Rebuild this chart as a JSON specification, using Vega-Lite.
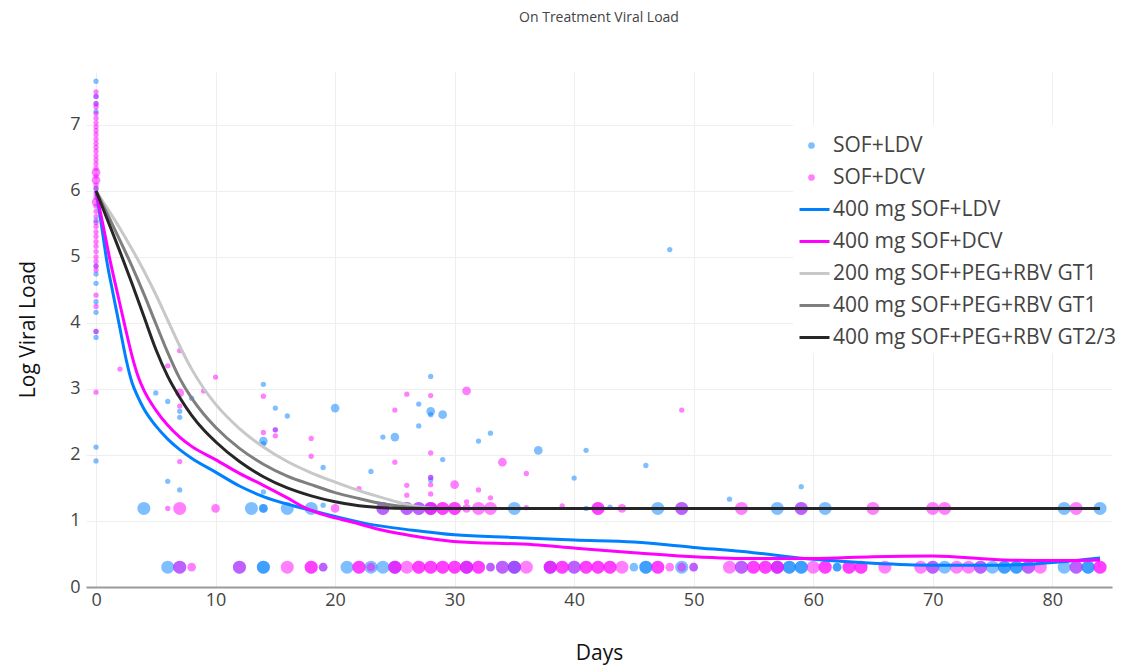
{
"$schema": "https://vega.github.io/schema/vega-lite/v6.json",
"width": 1026,
"height": 515,
"autosize": {"type": "none"},
"padding": {"left": 86, "top": 72, "right": 13, "bottom": 81},
"background": "white",
"config": {"font": "Open Sans", "view": {"stroke": null}},
"title": {"text": "On Treatment Viral Load", "fontSize": 14, "fontWeight": "normal", "color": "#444", "anchor": "middle", "offset": 47},
"resolve": {"scale": {"color": "independent"}, "legend": {"color": "independent"}},
"datasets": {
"pts": [
{"d":0,"v":7.66,"s":"SOF+LDV","n":1},{"d":0,"v":7.43,"s":"SOF+LDV","n":1},{"d":0,"v":7.32,"s":"SOF+LDV","n":1},{"d":0,"v":7.2,"s":"SOF+LDV","n":1},{"d":0,"v":6.04,"s":"SOF+LDV","n":1},{"d":0,"v":5.55,"s":"SOF+LDV","n":1},{"d":0,"v":4.86,"s":"SOF+LDV","n":1},{"d":0,"v":4.74,"s":"SOF+LDV","n":1},{"d":0,"v":4.6,"s":"SOF+LDV","n":1},{"d":0,"v":4.32,"s":"SOF+LDV","n":1},{"d":0,"v":4.16,"s":"SOF+LDV","n":1},{"d":0,"v":3.87,"s":"SOF+LDV","n":1},{"d":0,"v":3.78,"s":"SOF+LDV","n":1},{"d":0,"v":2.12,"s":"SOF+LDV","n":1},{"d":0,"v":1.91,"s":"SOF+LDV","n":1},
{"d":0,"v":7.5,"s":"SOF+DCV","n":1},{"d":0,"v":7.43,"s":"SOF+DCV","n":1},{"d":0,"v":7.32,"s":"SOF+DCV","n":1},{"d":0,"v":7.27,"s":"SOF+DCV","n":1},{"d":0,"v":7.17,"s":"SOF+DCV","n":1},{"d":0,"v":7.1,"s":"SOF+DCV","n":1},{"d":0,"v":7.03,"s":"SOF+DCV","n":1},{"d":0,"v":6.97,"s":"SOF+DCV","n":1},{"d":0,"v":6.91,"s":"SOF+DCV","n":1},{"d":0,"v":6.85,"s":"SOF+DCV","n":1},{"d":0,"v":6.78,"s":"SOF+DCV","n":1},{"d":0,"v":6.72,"s":"SOF+DCV","n":1},{"d":0,"v":6.66,"s":"SOF+DCV","n":1},{"d":0,"v":6.6,"s":"SOF+DCV","n":1},{"d":0,"v":6.53,"s":"SOF+DCV","n":1},{"d":0,"v":6.47,"s":"SOF+DCV","n":1},{"d":0,"v":6.41,"s":"SOF+DCV","n":1},{"d":0,"v":6.34,"s":"SOF+DCV","n":1},{"d":0,"v":6.28,"s":"SOF+DCV","n":2},{"d":0,"v":6.22,"s":"SOF+DCV","n":1},{"d":0,"v":6.16,"s":"SOF+DCV","n":2},{"d":0,"v":6.09,"s":"SOF+DCV","n":1},{"d":0,"v":6.03,"s":"SOF+DCV","n":1},{"d":0,"v":5.96,"s":"SOF+DCV","n":1},{"d":0,"v":5.9,"s":"SOF+DCV","n":1},{"d":0,"v":5.83,"s":"SOF+DCV","n":2},{"d":0,"v":5.77,"s":"SOF+DCV","n":1},{"d":0,"v":5.69,"s":"SOF+DCV","n":1},{"d":0,"v":5.61,"s":"SOF+DCV","n":1},{"d":0,"v":5.52,"s":"SOF+DCV","n":1},{"d":0,"v":5.46,"s":"SOF+DCV","n":1},{"d":0,"v":5.38,"s":"SOF+DCV","n":1},{"d":0,"v":5.31,"s":"SOF+DCV","n":1},{"d":0,"v":5.23,"s":"SOF+DCV","n":1},{"d":0,"v":5.16,"s":"SOF+DCV","n":1},{"d":0,"v":5.08,"s":"SOF+DCV","n":1},{"d":0,"v":5.0,"s":"SOF+DCV","n":1},{"d":0,"v":4.93,"s":"SOF+DCV","n":1},{"d":0,"v":4.86,"s":"SOF+DCV","n":1},{"d":0,"v":4.8,"s":"SOF+DCV","n":1},{"d":0,"v":4.42,"s":"SOF+DCV","n":1},{"d":0,"v":4.25,"s":"SOF+DCV","n":1},{"d":0,"v":3.87,"s":"SOF+DCV","n":1},{"d":0,"v":2.95,"s":"SOF+DCV","n":1},
{"d":5,"v":2.94,"s":"SOF+LDV","n":1},{"d":6,"v":2.81,"s":"SOF+LDV","n":1},{"d":6,"v":1.6,"s":"SOF+LDV","n":1},{"d":7,"v":2.66,"s":"SOF+LDV","n":1},{"d":7,"v":2.57,"s":"SOF+LDV","n":1},{"d":7,"v":1.47,"s":"SOF+LDV","n":1},{"d":8,"v":2.86,"s":"SOF+LDV","n":1},{"d":14,"v":3.07,"s":"SOF+LDV","n":1},{"d":14,"v":2.21,"s":"SOF+LDV","n":2},{"d":14,"v":2.17,"s":"SOF+LDV","n":1},{"d":14,"v":1.44,"s":"SOF+LDV","n":1},{"d":15,"v":2.71,"s":"SOF+LDV","n":1},{"d":15,"v":2.38,"s":"SOF+LDV","n":1},{"d":16,"v":2.59,"s":"SOF+LDV","n":1},{"d":19,"v":1.81,"s":"SOF+LDV","n":1},{"d":20,"v":2.71,"s":"SOF+LDV","n":2},{"d":23,"v":1.75,"s":"SOF+LDV","n":1},{"d":24,"v":2.27,"s":"SOF+LDV","n":1},{"d":25,"v":2.27,"s":"SOF+LDV","n":2},{"d":27,"v":2.77,"s":"SOF+LDV","n":1},{"d":27,"v":2.44,"s":"SOF+LDV","n":1},{"d":28,"v":3.19,"s":"SOF+LDV","n":1},{"d":28,"v":2.66,"s":"SOF+LDV","n":2},{"d":28,"v":2.61,"s":"SOF+LDV","n":1},{"d":28,"v":1.66,"s":"SOF+LDV","n":1},{"d":28,"v":1.62,"s":"SOF+LDV","n":1},{"d":29,"v":2.61,"s":"SOF+LDV","n":2},{"d":29,"v":1.93,"s":"SOF+LDV","n":1},{"d":32,"v":2.21,"s":"SOF+LDV","n":1},{"d":33,"v":2.33,"s":"SOF+LDV","n":1},{"d":37,"v":2.07,"s":"SOF+LDV","n":2},{"d":40,"v":1.65,"s":"SOF+LDV","n":1},{"d":41,"v":2.07,"s":"SOF+LDV","n":1},{"d":46,"v":1.84,"s":"SOF+LDV","n":1},{"d":48,"v":5.11,"s":"SOF+LDV","n":1},{"d":53,"v":1.33,"s":"SOF+LDV","n":1},{"d":59,"v":1.52,"s":"SOF+LDV","n":1},
{"d":2,"v":3.3,"s":"SOF+DCV","n":1},{"d":6,"v":3.35,"s":"SOF+DCV","n":1},{"d":7,"v":3.58,"s":"SOF+DCV","n":1},{"d":7,"v":2.94,"s":"SOF+DCV","n":2},{"d":7,"v":2.74,"s":"SOF+DCV","n":1},{"d":7,"v":1.9,"s":"SOF+DCV","n":1},{"d":9,"v":2.97,"s":"SOF+DCV","n":1},{"d":10,"v":3.18,"s":"SOF+DCV","n":1},{"d":14,"v":2.89,"s":"SOF+DCV","n":1},{"d":14,"v":2.34,"s":"SOF+DCV","n":1},{"d":15,"v":2.38,"s":"SOF+DCV","n":1},{"d":15,"v":2.29,"s":"SOF+DCV","n":1},{"d":18,"v":2.25,"s":"SOF+DCV","n":1},{"d":18,"v":1.98,"s":"SOF+DCV","n":1},{"d":22,"v":1.49,"s":"SOF+DCV","n":1},{"d":25,"v":2.68,"s":"SOF+DCV","n":1},{"d":25,"v":1.89,"s":"SOF+DCV","n":1},{"d":26,"v":2.92,"s":"SOF+DCV","n":1},{"d":26,"v":1.54,"s":"SOF+DCV","n":1},{"d":26,"v":1.39,"s":"SOF+DCV","n":1},{"d":28,"v":2.9,"s":"SOF+DCV","n":1},{"d":28,"v":2.03,"s":"SOF+DCV","n":1},{"d":28,"v":1.66,"s":"SOF+DCV","n":1},{"d":28,"v":1.55,"s":"SOF+DCV","n":1},{"d":28,"v":1.41,"s":"SOF+DCV","n":1},{"d":30,"v":1.55,"s":"SOF+DCV","n":2},{"d":31,"v":2.97,"s":"SOF+DCV","n":2},{"d":31,"v":1.29,"s":"SOF+DCV","n":1},{"d":32,"v":1.47,"s":"SOF+DCV","n":1},{"d":33,"v":1.35,"s":"SOF+DCV","n":1},{"d":34,"v":1.89,"s":"SOF+DCV","n":2},{"d":36,"v":1.72,"s":"SOF+DCV","n":1},{"d":49,"v":2.68,"s":"SOF+DCV","n":1},
{"d":4,"v":1.19,"s":"SOF+LDV","n":4},{"d":13,"v":1.19,"s":"SOF+LDV","n":4},{"d":14,"v":1.19,"s":"SOF+LDV","n":2},{"d":14,"v":1.19,"s":"SOF+LDV","n":2},{"d":16,"v":1.19,"s":"SOF+LDV","n":4},{"d":18,"v":1.19,"s":"SOF+LDV","n":4},{"d":19,"v":1.24,"s":"SOF+LDV","n":1},{"d":24,"v":1.19,"s":"SOF+LDV","n":4},{"d":26,"v":1.19,"s":"SOF+LDV","n":4},{"d":27,"v":1.19,"s":"SOF+LDV","n":4},{"d":28,"v":1.19,"s":"SOF+LDV","n":4},{"d":35,"v":1.19,"s":"SOF+LDV","n":4},{"d":41,"v":1.19,"s":"SOF+LDV","n":1},{"d":43,"v":1.21,"s":"SOF+LDV","n":1},{"d":47,"v":1.19,"s":"SOF+LDV","n":4},{"d":49,"v":1.19,"s":"SOF+LDV","n":4},{"d":57,"v":1.19,"s":"SOF+LDV","n":4},{"d":59,"v":1.19,"s":"SOF+LDV","n":4},{"d":61,"v":1.19,"s":"SOF+LDV","n":4},{"d":81,"v":1.19,"s":"SOF+LDV","n":4},{"d":84,"v":1.19,"s":"SOF+LDV","n":4},
{"d":6,"v":1.19,"s":"SOF+DCV","n":1},{"d":7,"v":1.19,"s":"SOF+DCV","n":4},{"d":10,"v":1.19,"s":"SOF+DCV","n":2},{"d":20,"v":1.19,"s":"SOF+DCV","n":2},{"d":24,"v":1.19,"s":"SOF+DCV","n":4},{"d":26,"v":1.19,"s":"SOF+DCV","n":4},{"d":27,"v":1.19,"s":"SOF+DCV","n":4},{"d":28,"v":1.19,"s":"SOF+DCV","n":4},{"d":28,"v":1.19,"s":"SOF+DCV","n":4},{"d":29,"v":1.19,"s":"SOF+DCV","n":4},{"d":29,"v":1.19,"s":"SOF+DCV","n":4},{"d":30,"v":1.19,"s":"SOF+DCV","n":4},{"d":30,"v":1.19,"s":"SOF+DCV","n":4},{"d":31,"v":1.19,"s":"SOF+DCV","n":2},{"d":32,"v":1.19,"s":"SOF+DCV","n":4},{"d":33,"v":1.19,"s":"SOF+DCV","n":4},{"d":36,"v":1.2,"s":"SOF+DCV","n":1},{"d":39,"v":1.23,"s":"SOF+DCV","n":1},{"d":42,"v":1.19,"s":"SOF+DCV","n":4},{"d":42,"v":1.19,"s":"SOF+DCV","n":4},{"d":44,"v":1.19,"s":"SOF+DCV","n":2},{"d":49,"v":1.19,"s":"SOF+DCV","n":4},{"d":54,"v":1.19,"s":"SOF+DCV","n":4},{"d":59,"v":1.19,"s":"SOF+DCV","n":4},{"d":65,"v":1.19,"s":"SOF+DCV","n":4},{"d":70,"v":1.19,"s":"SOF+DCV","n":4},{"d":71,"v":1.19,"s":"SOF+DCV","n":4},{"d":82,"v":1.19,"s":"SOF+DCV","n":4},
{"d":6,"v":0.3,"s":"SOF+LDV","n":4},{"d":7,"v":0.3,"s":"SOF+LDV","n":4},{"d":12,"v":0.3,"s":"SOF+LDV","n":4},{"d":14,"v":0.3,"s":"SOF+LDV","n":4},{"d":14,"v":0.3,"s":"SOF+LDV","n":4},{"d":19,"v":0.3,"s":"SOF+LDV","n":2},{"d":21,"v":0.3,"s":"SOF+LDV","n":4},{"d":23,"v":0.3,"s":"SOF+LDV","n":4},{"d":24,"v":0.3,"s":"SOF+LDV","n":4},{"d":25,"v":0.3,"s":"SOF+LDV","n":4},{"d":31,"v":0.3,"s":"SOF+LDV","n":4},{"d":33,"v":0.3,"s":"SOF+LDV","n":2},{"d":34,"v":0.3,"s":"SOF+LDV","n":4},{"d":35,"v":0.3,"s":"SOF+LDV","n":4},{"d":35,"v":0.3,"s":"SOF+LDV","n":4},{"d":38,"v":0.3,"s":"SOF+LDV","n":4},{"d":40,"v":0.3,"s":"SOF+LDV","n":4},{"d":45,"v":0.3,"s":"SOF+LDV","n":2},{"d":46,"v":0.3,"s":"SOF+LDV","n":4},{"d":46,"v":0.3,"s":"SOF+LDV","n":4},{"d":49,"v":0.3,"s":"SOF+LDV","n":4},{"d":50,"v":0.3,"s":"SOF+LDV","n":2},{"d":54,"v":0.3,"s":"SOF+LDV","n":4},{"d":57,"v":0.3,"s":"SOF+LDV","n":4},{"d":58,"v":0.3,"s":"SOF+LDV","n":4},{"d":58,"v":0.3,"s":"SOF+LDV","n":4},{"d":59,"v":0.3,"s":"SOF+LDV","n":4},{"d":59,"v":0.3,"s":"SOF+LDV","n":4},{"d":62,"v":0.3,"s":"SOF+LDV","n":2},{"d":62,"v":0.3,"s":"SOF+LDV","n":2},{"d":70,"v":0.3,"s":"SOF+LDV","n":4},{"d":71,"v":0.3,"s":"SOF+LDV","n":4},{"d":74,"v":0.3,"s":"SOF+LDV","n":4},{"d":75,"v":0.3,"s":"SOF+LDV","n":4},{"d":76,"v":0.3,"s":"SOF+LDV","n":4},{"d":76,"v":0.3,"s":"SOF+LDV","n":4},{"d":77,"v":0.3,"s":"SOF+LDV","n":4},{"d":77,"v":0.3,"s":"SOF+LDV","n":4},{"d":78,"v":0.3,"s":"SOF+LDV","n":4},{"d":81,"v":0.3,"s":"SOF+LDV","n":4},{"d":82,"v":0.3,"s":"SOF+LDV","n":4},{"d":83,"v":0.3,"s":"SOF+LDV","n":4},{"d":83,"v":0.3,"s":"SOF+LDV","n":4},
{"d":7,"v":0.3,"s":"SOF+DCV","n":4},{"d":8,"v":0.3,"s":"SOF+DCV","n":2},{"d":12,"v":0.3,"s":"SOF+DCV","n":4},{"d":16,"v":0.3,"s":"SOF+DCV","n":4},{"d":18,"v":0.3,"s":"SOF+DCV","n":4},{"d":18,"v":0.3,"s":"SOF+DCV","n":4},{"d":19,"v":0.3,"s":"SOF+DCV","n":2},{"d":22,"v":0.3,"s":"SOF+DCV","n":4},{"d":22,"v":0.3,"s":"SOF+DCV","n":4},{"d":23,"v":0.3,"s":"SOF+DCV","n":2},{"d":25,"v":0.3,"s":"SOF+DCV","n":4},{"d":25,"v":0.3,"s":"SOF+DCV","n":4},{"d":26,"v":0.3,"s":"SOF+DCV","n":4},{"d":27,"v":0.3,"s":"SOF+DCV","n":4},{"d":27,"v":0.3,"s":"SOF+DCV","n":4},{"d":28,"v":0.3,"s":"SOF+DCV","n":4},{"d":28,"v":0.3,"s":"SOF+DCV","n":4},{"d":29,"v":0.3,"s":"SOF+DCV","n":4},{"d":29,"v":0.3,"s":"SOF+DCV","n":4},{"d":30,"v":0.3,"s":"SOF+DCV","n":4},{"d":30,"v":0.3,"s":"SOF+DCV","n":4},{"d":31,"v":0.3,"s":"SOF+DCV","n":4},{"d":31,"v":0.3,"s":"SOF+DCV","n":4},{"d":32,"v":0.3,"s":"SOF+DCV","n":4},{"d":32,"v":0.3,"s":"SOF+DCV","n":4},{"d":33,"v":0.3,"s":"SOF+DCV","n":2},{"d":34,"v":0.3,"s":"SOF+DCV","n":4},{"d":35,"v":0.3,"s":"SOF+DCV","n":4},{"d":36,"v":0.3,"s":"SOF+DCV","n":4},{"d":38,"v":0.3,"s":"SOF+DCV","n":4},{"d":38,"v":0.3,"s":"SOF+DCV","n":4},{"d":39,"v":0.3,"s":"SOF+DCV","n":4},{"d":39,"v":0.3,"s":"SOF+DCV","n":4},{"d":40,"v":0.3,"s":"SOF+DCV","n":4},{"d":41,"v":0.3,"s":"SOF+DCV","n":4},{"d":41,"v":0.3,"s":"SOF+DCV","n":4},{"d":42,"v":0.3,"s":"SOF+DCV","n":4},{"d":42,"v":0.3,"s":"SOF+DCV","n":4},{"d":43,"v":0.3,"s":"SOF+DCV","n":4},{"d":43,"v":0.3,"s":"SOF+DCV","n":4},{"d":44,"v":0.3,"s":"SOF+DCV","n":4},{"d":47,"v":0.3,"s":"SOF+DCV","n":4},{"d":47,"v":0.3,"s":"SOF+DCV","n":4},{"d":48,"v":0.3,"s":"SOF+DCV","n":2},{"d":49,"v":0.3,"s":"SOF+DCV","n":2},{"d":50,"v":0.3,"s":"SOF+DCV","n":2},{"d":53,"v":0.3,"s":"SOF+DCV","n":4},{"d":54,"v":0.3,"s":"SOF+DCV","n":4},{"d":55,"v":0.3,"s":"SOF+DCV","n":4},{"d":55,"v":0.3,"s":"SOF+DCV","n":4},{"d":56,"v":0.3,"s":"SOF+DCV","n":4},{"d":56,"v":0.3,"s":"SOF+DCV","n":4},{"d":57,"v":0.3,"s":"SOF+DCV","n":4},{"d":57,"v":0.3,"s":"SOF+DCV","n":4},{"d":60,"v":0.3,"s":"SOF+DCV","n":4},{"d":61,"v":0.3,"s":"SOF+DCV","n":4},{"d":61,"v":0.3,"s":"SOF+DCV","n":4},{"d":63,"v":0.3,"s":"SOF+DCV","n":4},{"d":63,"v":0.3,"s":"SOF+DCV","n":4},{"d":64,"v":0.3,"s":"SOF+DCV","n":4},{"d":64,"v":0.3,"s":"SOF+DCV","n":4},{"d":66,"v":0.3,"s":"SOF+DCV","n":4},{"d":69,"v":0.3,"s":"SOF+DCV","n":4},{"d":70,"v":0.3,"s":"SOF+DCV","n":4},{"d":72,"v":0.3,"s":"SOF+DCV","n":4},{"d":73,"v":0.3,"s":"SOF+DCV","n":4},{"d":74,"v":0.3,"s":"SOF+DCV","n":4},{"d":78,"v":0.3,"s":"SOF+DCV","n":4},{"d":79,"v":0.3,"s":"SOF+DCV","n":4},{"d":82,"v":0.3,"s":"SOF+DCV","n":4},{"d":84,"v":0.3,"s":"SOF+DCV","n":4},{"d":84,"v":0.3,"s":"SOF+DCV","n":4}
],
"fit": [
{"d":0,"v":6.0,"s":"400 mg SOF+LDV"},{"d":0.47,"v":5.46,"s":"400 mg SOF+LDV"},{"d":0.89,"v":4.95,"s":"400 mg SOF+LDV"},{"d":1.45,"v":4.42,"s":"400 mg SOF+LDV"},{"d":2.0,"v":3.92,"s":"400 mg SOF+LDV"},{"d":2.5,"v":3.46,"s":"400 mg SOF+LDV"},{"d":3.0,"v":3.1,"s":"400 mg SOF+LDV"},{"d":3.5,"v":2.88,"s":"400 mg SOF+LDV"},{"d":4,"v":2.7,"s":"400 mg SOF+LDV"},{"d":5,"v":2.44,"s":"400 mg SOF+LDV"},{"d":6,"v":2.24,"s":"400 mg SOF+LDV"},{"d":7,"v":2.08,"s":"400 mg SOF+LDV"},{"d":8,"v":1.95,"s":"400 mg SOF+LDV"},{"d":10,"v":1.74,"s":"400 mg SOF+LDV"},{"d":12,"v":1.53,"s":"400 mg SOF+LDV"},{"d":14,"v":1.37,"s":"400 mg SOF+LDV"},{"d":16.5,"v":1.23,"s":"400 mg SOF+LDV"},{"d":18,"v":1.16,"s":"400 mg SOF+LDV"},{"d":20,"v":1.07,"s":"400 mg SOF+LDV"},{"d":22.6,"v":0.96,"s":"400 mg SOF+LDV"},{"d":26.5,"v":0.86,"s":"400 mg SOF+LDV"},{"d":30,"v":0.79,"s":"400 mg SOF+LDV"},{"d":35,"v":0.75,"s":"400 mg SOF+LDV"},{"d":40,"v":0.71,"s":"400 mg SOF+LDV"},{"d":45,"v":0.68,"s":"400 mg SOF+LDV"},{"d":50,"v":0.6,"s":"400 mg SOF+LDV"},{"d":55,"v":0.52,"s":"400 mg SOF+LDV"},{"d":60,"v":0.42,"s":"400 mg SOF+LDV"},{"d":65,"v":0.36,"s":"400 mg SOF+LDV"},{"d":70,"v":0.33,"s":"400 mg SOF+LDV"},{"d":76,"v":0.33,"s":"400 mg SOF+LDV"},{"d":80,"v":0.37,"s":"400 mg SOF+LDV"},{"d":84,"v":0.44,"s":"400 mg SOF+LDV"},
{"d":0,"v":6.0,"s":"400 mg SOF+DCV"},{"d":0.61,"v":5.46,"s":"400 mg SOF+DCV"},{"d":1.17,"v":4.95,"s":"400 mg SOF+DCV"},{"d":1.79,"v":4.45,"s":"400 mg SOF+DCV"},{"d":2.43,"v":3.94,"s":"400 mg SOF+DCV"},{"d":3.07,"v":3.46,"s":"400 mg SOF+DCV"},{"d":3.5,"v":3.2,"s":"400 mg SOF+DCV"},{"d":4,"v":2.98,"s":"400 mg SOF+DCV"},{"d":5,"v":2.68,"s":"400 mg SOF+DCV"},{"d":6,"v":2.45,"s":"400 mg SOF+DCV"},{"d":7,"v":2.27,"s":"400 mg SOF+DCV"},{"d":8,"v":2.13,"s":"400 mg SOF+DCV"},{"d":10,"v":1.93,"s":"400 mg SOF+DCV"},{"d":12,"v":1.72,"s":"400 mg SOF+DCV"},{"d":14,"v":1.54,"s":"400 mg SOF+DCV"},{"d":16,"v":1.35,"s":"400 mg SOF+DCV"},{"d":17.5,"v":1.2,"s":"400 mg SOF+DCV"},{"d":19.3,"v":1.08,"s":"400 mg SOF+DCV"},{"d":21.5,"v":0.98,"s":"400 mg SOF+DCV"},{"d":24,"v":0.86,"s":"400 mg SOF+DCV"},{"d":26.3,"v":0.78,"s":"400 mg SOF+DCV"},{"d":29.9,"v":0.69,"s":"400 mg SOF+DCV"},{"d":36.6,"v":0.64,"s":"400 mg SOF+DCV"},{"d":40,"v":0.59,"s":"400 mg SOF+DCV"},{"d":45,"v":0.52,"s":"400 mg SOF+DCV"},{"d":50,"v":0.46,"s":"400 mg SOF+DCV"},{"d":55,"v":0.43,"s":"400 mg SOF+DCV"},{"d":60,"v":0.43,"s":"400 mg SOF+DCV"},{"d":65,"v":0.46,"s":"400 mg SOF+DCV"},{"d":70,"v":0.47,"s":"400 mg SOF+DCV"},{"d":76,"v":0.41,"s":"400 mg SOF+DCV"},{"d":80,"v":0.4,"s":"400 mg SOF+DCV"},{"d":84,"v":0.41,"s":"400 mg SOF+DCV"},
{"d":0,"v":6.0,"s":"200 mg SOF+PEG+RBV GT1"},{"d":1,"v":5.72,"s":"200 mg SOF+PEG+RBV GT1"},{"d":2,"v":5.43,"s":"200 mg SOF+PEG+RBV GT1"},{"d":3,"v":5.12,"s":"200 mg SOF+PEG+RBV GT1"},{"d":4,"v":4.79,"s":"200 mg SOF+PEG+RBV GT1"},{"d":5,"v":4.43,"s":"200 mg SOF+PEG+RBV GT1"},{"d":6,"v":4.04,"s":"200 mg SOF+PEG+RBV GT1"},{"d":7,"v":3.65,"s":"200 mg SOF+PEG+RBV GT1"},{"d":8,"v":3.3,"s":"200 mg SOF+PEG+RBV GT1"},{"d":9,"v":3.01,"s":"200 mg SOF+PEG+RBV GT1"},{"d":10,"v":2.77,"s":"200 mg SOF+PEG+RBV GT1"},{"d":12,"v":2.4,"s":"200 mg SOF+PEG+RBV GT1"},{"d":14,"v":2.12,"s":"200 mg SOF+PEG+RBV GT1"},{"d":16,"v":1.9,"s":"200 mg SOF+PEG+RBV GT1"},{"d":18,"v":1.73,"s":"200 mg SOF+PEG+RBV GT1"},{"d":20,"v":1.59,"s":"200 mg SOF+PEG+RBV GT1"},{"d":22,"v":1.46,"s":"200 mg SOF+PEG+RBV GT1"},{"d":24,"v":1.35,"s":"200 mg SOF+PEG+RBV GT1"},{"d":26,"v":1.25,"s":"200 mg SOF+PEG+RBV GT1"},{"d":27.5,"v":1.2,"s":"200 mg SOF+PEG+RBV GT1"},{"d":28.5,"v":1.19,"s":"200 mg SOF+PEG+RBV GT1"},{"d":84,"v":1.19,"s":"200 mg SOF+PEG+RBV GT1"},
{"d":0,"v":6.0,"s":"400 mg SOF+PEG+RBV GT1"},{"d":1,"v":5.63,"s":"400 mg SOF+PEG+RBV GT1"},{"d":2,"v":5.25,"s":"400 mg SOF+PEG+RBV GT1"},{"d":3,"v":4.86,"s":"400 mg SOF+PEG+RBV GT1"},{"d":4,"v":4.44,"s":"400 mg SOF+PEG+RBV GT1"},{"d":5,"v":3.99,"s":"400 mg SOF+PEG+RBV GT1"},{"d":6,"v":3.55,"s":"400 mg SOF+PEG+RBV GT1"},{"d":7,"v":3.16,"s":"400 mg SOF+PEG+RBV GT1"},{"d":8,"v":2.86,"s":"400 mg SOF+PEG+RBV GT1"},{"d":9,"v":2.62,"s":"400 mg SOF+PEG+RBV GT1"},{"d":10,"v":2.42,"s":"400 mg SOF+PEG+RBV GT1"},{"d":12,"v":2.1,"s":"400 mg SOF+PEG+RBV GT1"},{"d":14,"v":1.86,"s":"400 mg SOF+PEG+RBV GT1"},{"d":16,"v":1.68,"s":"400 mg SOF+PEG+RBV GT1"},{"d":18,"v":1.55,"s":"400 mg SOF+PEG+RBV GT1"},{"d":20,"v":1.43,"s":"400 mg SOF+PEG+RBV GT1"},{"d":22,"v":1.34,"s":"400 mg SOF+PEG+RBV GT1"},{"d":24,"v":1.26,"s":"400 mg SOF+PEG+RBV GT1"},{"d":26,"v":1.21,"s":"400 mg SOF+PEG+RBV GT1"},{"d":27.5,"v":1.19,"s":"400 mg SOF+PEG+RBV GT1"},{"d":84,"v":1.19,"s":"400 mg SOF+PEG+RBV GT1"},
{"d":0,"v":6.0,"s":"400 mg SOF+PEG+RBV GT2/3"},{"d":1,"v":5.54,"s":"400 mg SOF+PEG+RBV GT2/3"},{"d":2,"v":5.08,"s":"400 mg SOF+PEG+RBV GT2/3"},{"d":3,"v":4.6,"s":"400 mg SOF+PEG+RBV GT2/3"},{"d":4,"v":4.1,"s":"400 mg SOF+PEG+RBV GT2/3"},{"d":5,"v":3.6,"s":"400 mg SOF+PEG+RBV GT2/3"},{"d":6,"v":3.19,"s":"400 mg SOF+PEG+RBV GT2/3"},{"d":7,"v":2.87,"s":"400 mg SOF+PEG+RBV GT2/3"},{"d":8,"v":2.6,"s":"400 mg SOF+PEG+RBV GT2/3"},{"d":9,"v":2.38,"s":"400 mg SOF+PEG+RBV GT2/3"},{"d":10,"v":2.2,"s":"400 mg SOF+PEG+RBV GT2/3"},{"d":12,"v":1.9,"s":"400 mg SOF+PEG+RBV GT2/3"},{"d":14,"v":1.67,"s":"400 mg SOF+PEG+RBV GT2/3"},{"d":16,"v":1.5,"s":"400 mg SOF+PEG+RBV GT2/3"},{"d":18,"v":1.38,"s":"400 mg SOF+PEG+RBV GT2/3"},{"d":20,"v":1.29,"s":"400 mg SOF+PEG+RBV GT2/3"},{"d":22,"v":1.23,"s":"400 mg SOF+PEG+RBV GT2/3"},{"d":24,"v":1.2,"s":"400 mg SOF+PEG+RBV GT2/3"},{"d":26,"v":1.19,"s":"400 mg SOF+PEG+RBV GT2/3"},{"d":84,"v":1.19,"s":"400 mg SOF+PEG+RBV GT2/3"}
]
},
"encoding": {
"x": {"field": "d", "type": "quantitative", "scale": {"domain": [-0.84, 85], "nice": false, "zero": false},
 "axis": {"values": [0,10,20,30,40,50,60,70,80], "grid": true, "gridColor": "#eeeeee", "ticks": false, "domain": true, "domainColor": "#999999", "domainWidth": 2, "labelFontSize": 18, "labelColor": "#444444", "labelPadding": 4, "title": "Days", "titleFontSize": 21, "titleFontWeight": "normal", "titleColor": "#111111", "titleY": 66, "titleBaseline": "middle"}},
"y": {"field": "v", "type": "quantitative", "scale": {"domain": [0, 7.8], "nice": false},
 "axis": {"values": [0,1,2,3,4,5,6,7], "grid": true, "gridColor": "#eeeeee", "ticks": false, "domain": false, "labelFontSize": 18, "labelColor": "#444444", "labelPadding": 6, "title": "Log Viral Load", "titleFontSize": 21, "titleFontWeight": "normal", "titleColor": "#111111", "titleX": -58, "titleY": 257, "titleAngle": 270, "titleAlign": "center", "titleBaseline": "middle"}}
},
"layer": [
{"data": {"values": [{"d": 0}]}, "mark": {"type": "rule", "color": "#999999", "strokeWidth": 2},
 "encoding": {"y": {"datum": 0, "type": "quantitative"}, "y2": {"datum": 7.8}}},
{"data": {"name": "pts"}, "mark": {"type": "circle", "opacity": 0.5},
 "encoding": {
  "color": {"field": "s", "type": "nominal",
   "scale": {"domain": ["SOF+LDV","SOF+DCV"], "range": ["#0080ff","#ff00ff"]},
   "legend": {"orient": "none", "legendX": 710, "legendY": 58, "title": null, "padding": 5, "zindex": 2, "symbolType": "circle", "symbolSize": 45, "symbolStrokeWidth": 0, "symbolOpacity": 0.5, "rowPadding": 10, "labelOffset": 11, "labelFontSize": 21, "labelColor": "#444444", "labelFont": "Open Sans", "labelLimit": 400}},
  "size": {"field": "n", "type": "quantitative", "scale": {"domain": [1, 4], "range": [28, 170], "zero": false}, "legend": null}
 }},
{"data": {"name": "fit"}, "mark": {"type": "line", "strokeWidth": 3, "interpolate": "monotone"},
 "encoding": {"color": {"field": "s", "type": "nominal",
   "scale": {"domain": ["400 mg SOF+LDV","400 mg SOF+DCV","200 mg SOF+PEG+RBV GT1","400 mg SOF+PEG+RBV GT1","400 mg SOF+PEG+RBV GT2/3"], "range": ["#0080ff","#ff00ff","#c8c8c8","#7f7f7f","#262626"]},
   "legend": {"orient": "none", "legendX": 707, "legendY": 53, "title": " ", "titleFontSize": 21, "titlePadding": 42, "fillColor": "white", "padding": 5, "zindex": 1, "symbolType": "stroke", "symbolSize": 900, "symbolStrokeWidth": 3, "rowPadding": 5, "labelOffset": 2, "labelFontSize": 21, "labelColor": "#444444", "labelFont": "Open Sans", "labelLimit": 400}}}}
]
}
